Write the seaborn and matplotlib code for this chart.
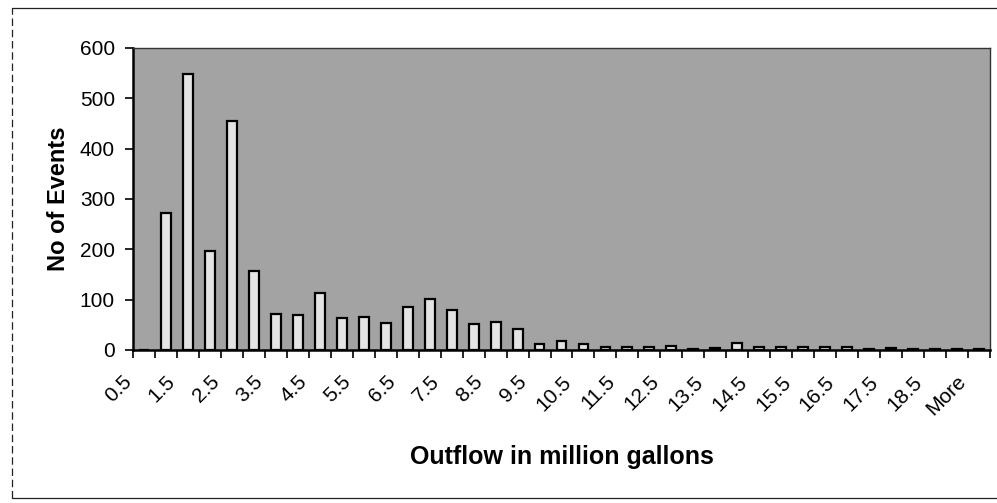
import matplotlib
matplotlib.use("Agg")
import matplotlib.pyplot as plt
from matplotlib.lines import Line2D
import seaborn as sns
import pandas as pd
import numpy as np

# Histogram bins (upper edges, million gallons) and event counts
bins = ["0.5", "1", "1.5", "2", "2.5", "3", "3.5", "4", "4.5", "5",
        "5.5", "6", "6.5", "7", "7.5", "8", "8.5", "9", "9.5", "10",
        "10.5", "11", "11.5", "12", "12.5", "13", "13.5", "14", "14.5", "15",
        "15.5", "16", "16.5", "17", "17.5", "18", "18.5", "19", "More"]
events = [0, 272, 549, 196, 455, 156, 71, 70, 114, 63,
          65, 53, 86, 101, 79, 51, 55, 42, 12, 17,
          11, 6, 5, 6, 7, 2, 3, 13, 6, 6,
          6, 6, 5, 2, 4, 2, 1, 1, 2]
y_ticks = [0, 100, 200, 300, 400, 500, 600]

df = pd.DataFrame({"bin": bins, "events": events})

sns.set_theme(style="white")
plt.rcParams["font.family"] = ["Liberation Sans", "DejaVu Sans"]

fig = plt.figure(figsize=(9.97, 5.03), dpi=100)
ax = fig.add_axes([0.1334, 0.3042, 0.8596, 0.6004])

ax.set_facecolor("#a3a3a3")
sns.barplot(data=df, x="bin", y="events", order=bins, width=0.45,
            color="#e4e4e4", edgecolor="black", linewidth=1.6,
            saturation=1, ax=ax)

n = len(bins)
ax.set_xlim(-0.5, n - 0.5)
ax.set_ylim(0, 600)
ax.set_yticks(y_ticks)
ax.set_yticklabels([str(v) for v in y_ticks], fontsize=15, color="black")

# Tick marks sit on bin boundaries; every other bin gets a slanted label
ax.set_xticks(range(n))
ax.set_xticklabels([])
ax.set_xticks(np.arange(-0.5, n, 1.0), minor=True)
ax.tick_params(axis="x", which="major", length=0)
ax.tick_params(axis="x", which="minor", length=6, width=1.2, color="black",
               direction="out", bottom=True)
ax.tick_params(axis="y", which="major", length=6, width=1.2, color="black",
               direction="out", left=True, pad=7)
for i, b in enumerate(bins):
    if i % 2 == 0:
        ax.annotate(b, xy=(i, 0), xycoords=("data", "axes fraction"),
                    xytext=(-16, -16), textcoords="offset points",
                    rotation=45, rotation_mode="anchor", ha="right", va="top",
                    fontsize=15, color="black", annotation_clip=False)

for side in ["left", "bottom"]:
    ax.spines[side].set_linewidth(1.8)
    ax.spines[side].set_color("black")
for side in ["top", "right"]:
    ax.spines[side].set_linewidth(1.0)
    ax.spines[side].set_color("#333333")

ax.set_xlabel("Outflow in million gallons", fontsize=18, fontweight="bold",
              color="black")
ax.set_ylabel("No of Events", fontsize=17, fontweight="bold", color="black")
ax.xaxis.set_label_coords(0.5, -0.355)
ax.yaxis.set_label_coords(-0.087, 0.5)
ax.xaxis.label.set_va("center")
ax.yaxis.label.set_va("center")

# Outer chart border
border_kw = dict(color="#222222", linewidth=0.9, transform=fig.transFigure)
fig.add_artist(Line2D([0.012, 0.012], [0.01, 0.985], linestyle=(0, (6, 3)), **border_kw))
fig.add_artist(Line2D([0.012, 1.0], [0.985, 0.985], **border_kw))
fig.add_artist(Line2D([0.012, 1.0], [0.01, 0.01], **border_kw))

fig.savefig("out.png", dpi=100)
